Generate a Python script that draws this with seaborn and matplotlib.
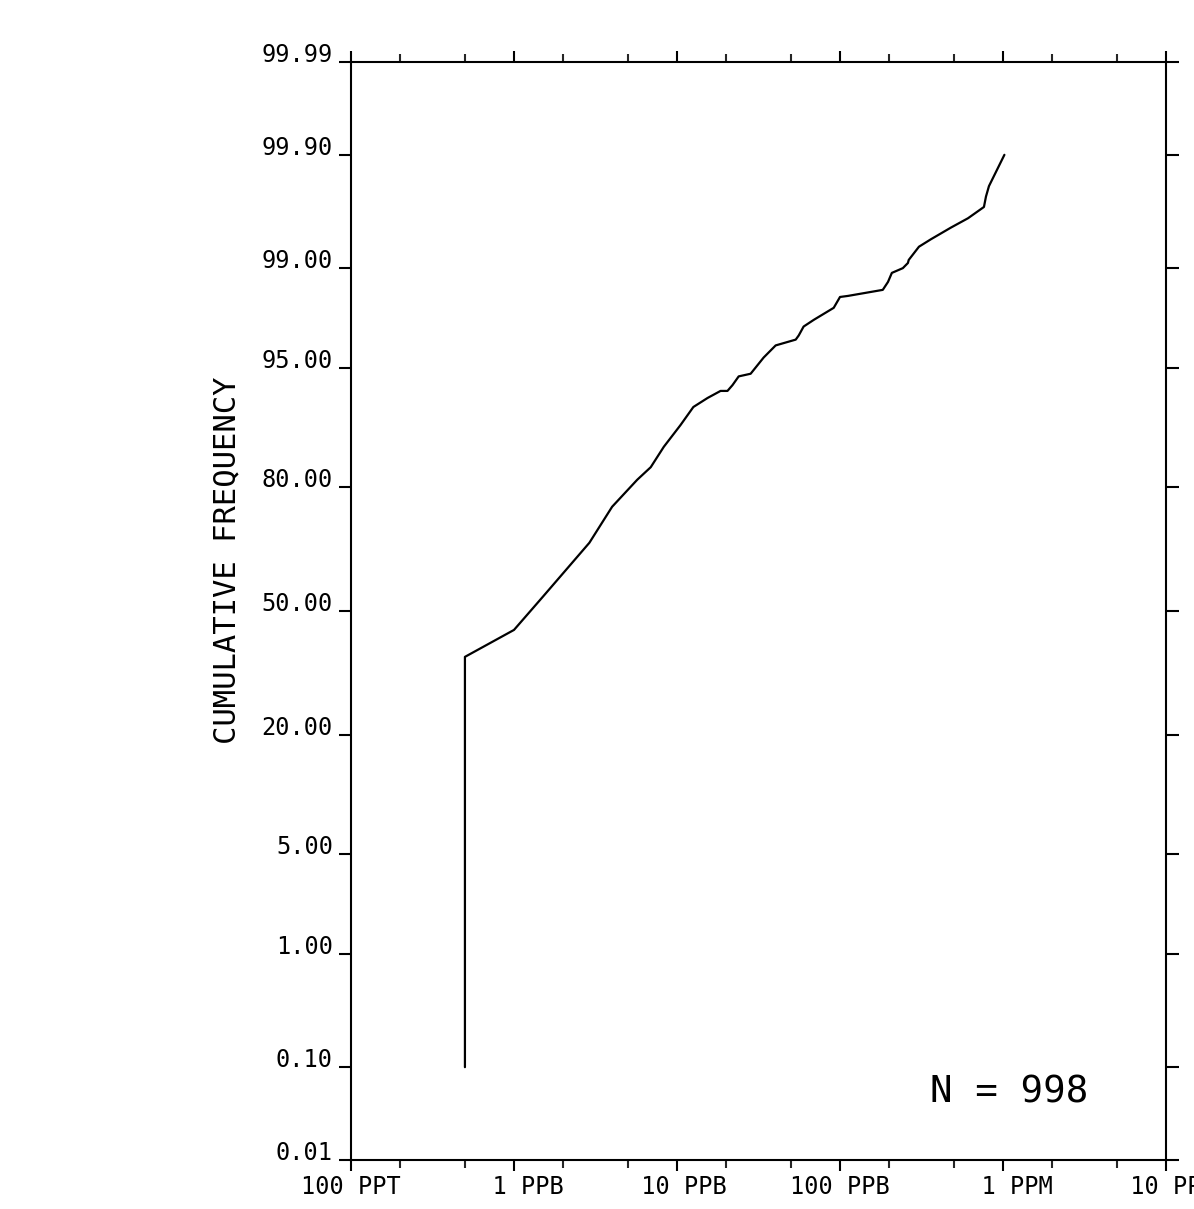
import numpy as np
import pandas as pd
import matplotlib
matplotlib.use("Agg")
import matplotlib.pyplot as plt
from matplotlib.ticker import FixedLocator, NullLocator, FixedFormatter
import seaborn as sns
from statistics import NormalDist

# ---- data ----
conc_ppb = [0.5, 0.5, 1.0, 1.5, 2.9, 4.0, 5.7, 6.9, 8.3, 10.5, 12.6, 15.4, 18.5,
            20.4, 21.9, 23.9, 28.3, 34.0, 40.3, 53.5, 55.8, 59.8, 69.0, 91.5,
            100, 112, 183, 197, 208, 243, 261, 264, 305, 361, 479, 610, 764,
            786, 820, 1020]
cum_pct = [0.10, 37.8, 44.9, 53.8, 67.8, 76.0, 81.3, 83.5, 86.7, 89.6, 91.65,
           92.55, 93.2, 93.2, 93.7, 94.4, 94.6, 95.7, 96.4, 96.7, 96.9, 97.3,
           97.57, 98.0, 98.33, 98.36, 98.52, 98.71, 98.90, 98.99, 99.08, 99.13,
           99.32, 99.41, 99.53, 99.61, 99.69, 99.75, 99.80, 99.90]

y_ticks = [0.01, 0.10, 1.00, 5.00, 20.00, 50.00, 80.00, 95.00, 99.00, 99.90, 99.99]
x_major = [0.1, 1, 10, 100, 1000, 10000]
x_major_labels = ["100 PPT", "1 PPB", "10 PPB", "100 PPB", "1 PPM", "10 PPM"]
x_minor = [0.2, 0.5, 2, 5, 20, 50, 200, 500, 2000, 5000]
n_samples = 998

df = pd.DataFrame({"conc": conc_ppb, "pct": cum_pct})

# ---- style ----
sns.set_style("ticks")
plt.rcParams["font.family"] = ["DejaVu Sans Mono", "DejaVu Sans"]
plt.rcParams["axes.linewidth"] = 1.5

_nd = NormalDist()

def prob_fwd(p):
    p = np.clip(np.asarray(p, dtype=float), 1e-7, 100 - 1e-7)
    return np.vectorize(lambda v: _nd.inv_cdf(v / 100.0), otypes=[float])(p)

def prob_inv(z):
    z = np.asarray(z, dtype=float)
    return np.vectorize(lambda v: _nd.cdf(v) * 100.0, otypes=[float])(z)

def space_centered(label):
    # plotter style: the gap between number and unit sits on the tick
    num, unit = label.split(" ", 1)
    pad = max(len(unit) - len(num), 0)
    return " " * pad + label

fig = plt.figure(figsize=(11.94, 12.09), dpi=100, facecolor="white")
ax = fig.add_axes([351 / 1194, 1 - 1160 / 1209, (1166 - 351) / 1194, (1160 - 62) / 1209])
ax.set_facecolor("white")

ax.set_xscale("log")
ax.set_yscale("function", functions=(prob_fwd, prob_inv))

sns.lineplot(data=df, x="conc", y="pct", sort=False, estimator=None,
             color="black", linewidth=1.6, ax=ax)

ax.set_xlim(0.1, 10000)
ax.set_ylim(0.01, 99.99)

# y axis
ax.yaxis.set_major_locator(FixedLocator(y_ticks))
ax.yaxis.set_major_formatter(FixedFormatter([f"{v:.2f}" for v in y_ticks]))
ax.yaxis.set_minor_locator(NullLocator())

# x axis
ax.xaxis.set_major_locator(FixedLocator(x_major))
ax.xaxis.set_major_formatter(FixedFormatter([space_centered(s) for s in x_major_labels]))
ax.xaxis.set_minor_locator(FixedLocator(x_minor))
ax.xaxis.set_minor_formatter(FixedFormatter([""] * len(x_minor)))

for s in ["top", "right", "left", "bottom"]:
    ax.spines[s].set_visible(True)
    ax.spines[s].set_linewidth(1.5)
    ax.spines[s].set_color("black")

ax.tick_params(axis="y", which="major", direction="out", length=9, width=1.5,
               left=True, right=True, labelleft=True, labelright=False,
               labelsize=17, pad=4, colors="black")
ax.tick_params(axis="x", which="major", direction="out", length=8, width=1.5,
               top=True, bottom=True, labeltop=False, labelbottom=True,
               labelsize=17, pad=3, colors="black")
ax.tick_params(axis="x", which="minor", direction="out", length=5.5, width=1.5,
               top=True, bottom=True, labeltop=False, labelbottom=False)

for lbl in ax.get_yticklabels():
    lbl.set_verticalalignment("baseline")

ax.set_xlabel("")
ax.set_ylabel("CUMULATIVE FREQUENCY", fontsize=22, color="black")
ax.yaxis.set_label_coords(-0.135, 0.546)

ax.text(0.710, 0.052, f"N = {n_samples}", transform=ax.transAxes,
        ha="left", va="baseline", fontsize=27, color="black")

fig.savefig("out.png", dpi=100, facecolor="white")
